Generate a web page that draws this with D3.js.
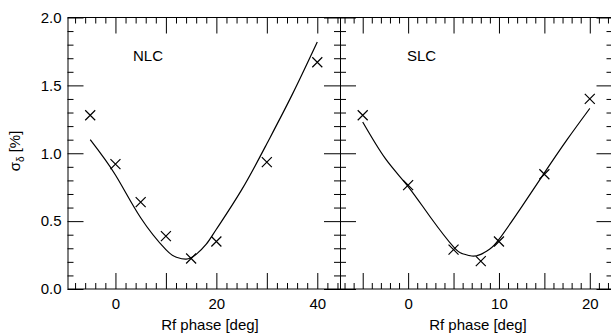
<!DOCTYPE html>
<html>
<head>
<meta charset="utf-8">
<script src="https://cdn.jsdelivr.net/npm/d3@7"></script>
<style>
body { margin: 0; background: #fff; }
svg { display: block; font-family: "Liberation Sans", Arial, sans-serif; }
</style>
</head>
<body>
<svg id="chart" width="611" height="333"></svg>
<script>
// measured points (x marks)
let nlcPhase = [-5, 0, 5, 10, 15, 20, 30, 40];
let nlcSigma = [1.28, 0.92, 0.64, 0.39, 0.225, 0.35, 0.935, 1.67];
let slcPhase = [-5, 0, 5, 8, 10, 15, 20];
let slcSigma = [1.28, 0.765, 0.29, 0.205, 0.35, 0.845, 1.40];

// fitted curves
let nlcFitPhase = [-5, 0, 5, 10, 12, 14, 16, 18, 20, 25, 30, 35, 40];
let nlcFitSigma = [1.10, 0.84, 0.525, 0.29, 0.235, 0.22, 0.255, 0.33, 0.44, 0.73, 1.07, 1.43, 1.82];
let slcFitPhase = [-5, -2.5, 0, 2.5, 5, 6, 7, 8, 9, 10, 12.5, 15, 17.5, 20];
let slcFitSigma = [1.23, 0.96, 0.755, 0.525, 0.31, 0.26, 0.243, 0.255, 0.295, 0.365, 0.605, 0.855, 1.10, 1.33];

// tick labels
let nlcTickLabels = [0, 20, 40];
let slcTickLabels = [0, 10, 20];
let yTickLabels = [0.0, 0.5, 1.0, 1.5, 2.0];

let svg = d3.select('#chart');
let yTop = 17.5, yBottom = 289;
let y = d3.scaleLinear().domain([0, 2]).range([yBottom, yTop]);

let panels = [
    {tag: 'NLC', phase: nlcPhase, sigma: nlcSigma, fitPhase: nlcFitPhase, fitSigma: nlcFitSigma,
     domain: [-9.5, 44.5], range: [67.5, 340], major: 10, minor: 2, labels: nlcTickLabels,
     tagX: 133, titleX: 210, yLabels: true},
    {tag: 'SLC', phase: slcPhase, sigma: slcSigma, fitPhase: slcFitPhase, fitSigma: slcFitSigma,
     domain: [-7.5, 22.5], range: [340, 612.5], major: 5, minor: 1, labels: slcTickLabels,
     tagX: 407, titleX: 478, yLabels: false}
];

let yMinor = d3.range(0, 2.01, 0.1).filter(function(v){ return Math.abs(v*2 - Math.round(v*2)) > 1e-6; });

panels.forEach(function(p){
    let x = d3.scaleLinear().domain(p.domain).range(p.range);
    let g = svg.append('g');
    let lo = Math.ceil(p.domain[0]/p.major)*p.major;
    let majors = d3.range(lo, p.domain[1], p.major);
    let minors = d3.range(Math.ceil(p.domain[0]/p.minor)*p.minor, p.domain[1], p.minor)
        .filter(function(v){ return Math.abs(v % p.major) > 1e-6; });

    // bottom axis
    let bx = g.append('g').attr('transform', 'translate(0,' + yBottom + ')');
    bx.call(d3.axisBottom(x).tickValues(majors).tickSize(-16).tickPadding(9)
        .tickFormat(function(d){ return p.labels.indexOf(d) >= 0 ? d : ''; }));
    bx.append('g').call(d3.axisBottom(x).tickValues(minors).tickSize(-6).tickFormat(''));

    // top axis
    let tx = g.append('g').attr('transform', 'translate(0,' + yTop + ')');
    tx.call(d3.axisTop(x).tickValues(majors).tickSize(-16).tickFormat(''));
    tx.append('g').call(d3.axisTop(x).tickValues(minors).tickSize(-6).tickFormat(''));

    // left axis
    let lx = g.append('g').attr('transform', 'translate(' + p.range[0] + ',0)');
    lx.call(d3.axisLeft(y).tickValues(yTickLabels).tickSize(-16).tickPadding(6)
        .tickFormat(function(d){ return p.yLabels ? d3.format('.1f')(d) : ''; }));
    lx.append('g').call(d3.axisLeft(y).tickValues(yMinor).tickSize(-6).tickFormat(''));

    // right axis
    let rx = g.append('g').attr('transform', 'translate(' + p.range[1] + ',0)');
    rx.call(d3.axisRight(y).tickValues(yTickLabels).tickSize(-16).tickFormat(''));
    rx.append('g').call(d3.axisRight(y).tickValues(yMinor).tickSize(-6).tickFormat(''));

    g.selectAll('.domain').remove();
    g.selectAll('.tick text').attr('font-size', 15).attr('font-family', '"Liberation Sans", Arial, sans-serif').attr('fill', '#000');
    g.selectAll('.tick line').attr('stroke', '#000');

    // frame
    g.append('rect')
        .attr('x', p.range[0] + 0.5).attr('y', yTop)
        .attr('width', p.range[1] - p.range[0]).attr('height', yBottom - yTop)
        .attr('fill', 'none').attr('stroke', '#000').attr('stroke-width', 1);

    // fitted curve
    let line = d3.line()
        .x(function(d){ return x(d[0]); })
        .y(function(d){ return y(d[1]); })
        .curve(d3.curveNatural);
    g.append('path')
        .datum(p.fitPhase.map(function(v, i){ return [v, p.fitSigma[i]]; }))
        .attr('d', line)
        .attr('fill', 'none').attr('stroke', '#000').attr('stroke-width', 1.2);

    // x markers
    let s = 5;
    g.selectAll('.mark')
        .data(p.phase.map(function(v, i){ return [v, p.sigma[i]]; }))
        .enter()
        .append('path')
        .attr('class', 'mark')
        .attr('d', function(d){
            let cx = x(d[0]), cy = y(d[1]);
            return 'M' + (cx-s) + ',' + (cy-s) + 'L' + (cx+s) + ',' + (cy+s) +
                   'M' + (cx-s) + ',' + (cy+s) + 'L' + (cx+s) + ',' + (cy-s);
        })
        .attr('stroke', '#000').attr('stroke-width', 1.2).attr('fill', 'none');

    // panel tag
    g.append('text')
        .attr('x', p.tagX).attr('y', 61)
        .attr('font-size', 15)
        .text(p.tag);

    // x title
    g.append('text')
        .attr('x', p.titleX).attr('y', 330)
        .attr('text-anchor', 'middle')
        .attr('font-size', 15)
        .text('Rf phase [deg]');
});

// y title
let yt = svg.append('text')
    .attr('transform', 'translate(19.5,151) rotate(-90)')
    .attr('text-anchor', 'middle')
    .attr('font-size', 15);
yt.append('tspan').text('σ');
yt.append('tspan').attr('font-size', 10).attr('dy', 4).text('δ');
yt.append('tspan').attr('dy', -4).text(' [%]');
</script>
</body>
</html>
